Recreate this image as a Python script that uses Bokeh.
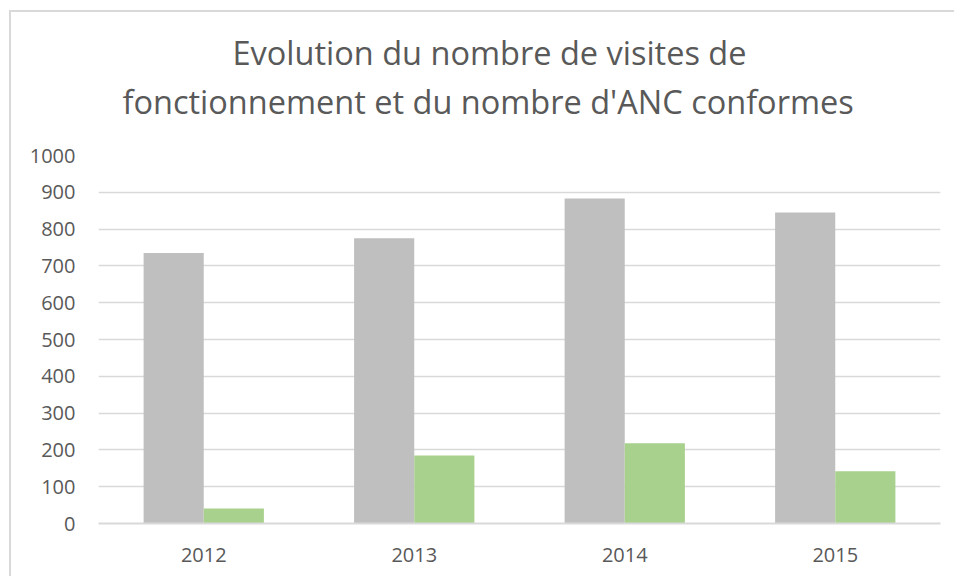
from bokeh.plotting import figure
from bokeh.models import ColumnDataSource, Title, FactorRange
from bokeh.transform import dodge
from bokeh.embed import file_html
from bokeh.resources import INLINE

years = ["2012", "2013", "2014", "2015"]
visites = [735, 775, 883, 845]
conformes = [41, 185, 218, 142]
title_lines = ["Evolution du nombre de visites de",
               "fonctionnement et du nombre d'ANC conformes"]

FONT = "Open Sans"
TXT = "#595959"
GRID = "#d9d9d9"

src = ColumnDataSource(dict(year=years, visites=visites, conformes=conformes))

p = figure(x_range=FactorRange(*years), y_range=(0, 1000),
           width=945, height=566, output_backend="svg", toolbar_location=None,
           min_border_left=87, min_border_right=16, min_border_top=143, min_border_bottom=55)

bw = 2 / 7
p.vbar(x=dodge("year", -bw / 2, range=p.x_range), top="visites", width=bw,
       source=src, fill_color="#bfbfbf", line_color=None)
p.vbar(x=dodge("year", bw / 2, range=p.x_range), top="conformes", width=bw,
       source=src, fill_color="#a9d18e", line_color=None)

p.outline_line_color = None
p.background_fill_color = "white"
p.border_fill_color = "white"
p.styles = {"border-top": "2px solid #d9d9d9", "border-left": "2px solid #d9d9d9",
            "margin-left": "9px", "margin-top": "10px"}

p.xgrid.grid_line_color = None
p.ygrid.grid_line_color = GRID
p.ygrid.grid_line_width = 1.5
p.yaxis.ticker = list(range(0, 1001, 100))

for ax in (p.xaxis, p.yaxis):
    ax.major_tick_line_color = None
    ax.minor_tick_line_color = None
    ax.major_label_text_font = FONT
    ax.major_label_text_font_size = "20px"
    ax.major_label_text_color = TXT
p.yaxis.axis_line_color = None
p.yaxis.major_label_standoff = 17
p.xaxis.axis_line_color = GRID
p.xaxis.axis_line_width = 2
p.xaxis.major_label_standoff = 18

# spacer between the frame and the title block
p.add_layout(Title(text=" ", standoff=29, text_font_size="1px"), "above")

# titles stacked above the frame; later-added sits higher
offsets = [134, 24]
standoffs = [3, 0]
for t, off, so in reversed(list(zip(title_lines, offsets, standoffs))):
    p.add_layout(Title(text=t, align="left", offset=off, standoff=so,
                       text_font=FONT, text_font_size="32.5px", text_color=TXT,
                       text_font_style="normal"), "above")

open("out.html", "w").write(file_html(p, INLINE))
